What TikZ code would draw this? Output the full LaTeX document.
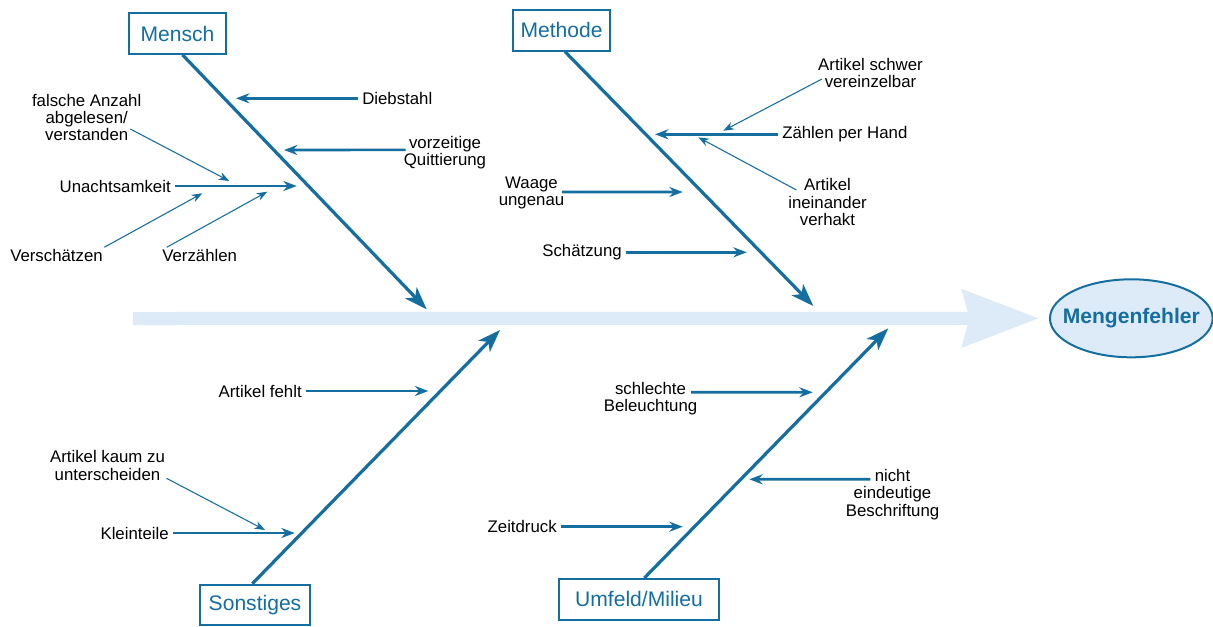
\documentclass[tikz,border=0pt]{standalone}
\usepackage{fontspec}
\setmainfont{Liberation Sans}
\usetikzlibrary{arrows.meta, shapes.geometric}
\definecolor{fishblue}{RGB}{20,110,160}
\definecolor{spineblue}{RGB}{221,235,248}

\begin{document}
\begin{tikzpicture}[
        x=0.75pt, y=-0.75pt,
        causebox/.style={rectangle, draw=fishblue, line width=1.5pt, text=fishblue, minimum height=30.5pt, inner sep=0pt, font=\fontsize{15.8}{18}\selectfont},
        effect/.style={ellipse, draw=fishblue, fill=spineblue, line width=1.5pt, text=fishblue, minimum width=122pt, minimum height=58.5pt, inner sep=0pt, font=\fontsize{15.8}{18}\selectfont\bfseries},
        causetext/.style={inner xsep=3pt, inner ysep=1pt, align=center, font=\fontsize{12.6}{13.1}\selectfont},
        bone/.style={-{Stealth[length=17pt, width=12pt, inset=4.5pt]}, fishblue, line width=2.4pt},
        subarrow/.style={-{Stealth[length=10pt, width=7.5pt]}, fishblue, line width=2pt},
        thinarrow/.style={-{Stealth[length=8pt, width=6pt]}, fishblue, line width=0.8pt},
        spine/.style={-{Stealth[length=57pt, width=42pt, inset=5pt]}, spineblue, line width=9.75pt}
    ]
        \path[use as bounding box, fill=white] (0,0) rectangle (1213,626);

        \node[effect] (fehler) at (1131.3,318.3) {\makebox[0pt]{Mengenfehler}};
        \coordinate (tail) at (133,318.5);
        \draw[spine] (tail) -- ([xshift=-7.5pt]fehler.west);

        \node[causebox, minimum width=72.75pt] (mensch) at (177.5,33.5) {Mensch};
        \node[causebox, minimum width=72.75pt] (methode) at (561.5,30.3) {Methode};
        \node[causebox, minimum width=82.5pt] (sonst) at (255,605) {Sonstiges};
        \node[causebox, minimum width=119.5pt] (umfeld) at (639,599.3) {Umfeld/Milieu};

        \coordinate (mensch-tip) at (426.7,309.3);
        \coordinate (methode-tip) at (813.3,306);
        \coordinate (sonst-tip) at (500,330);
        \coordinate (umfeld-tip) at (888.3,328.3);
        \draw[bone] ([xshift=3.75pt]mensch.south) -- (mensch-tip);
        \draw[bone] ([xshift=2.6pt]methode.south) -- (methode-tip);
        \draw[bone] ([xshift=-2pt]sonst.north) -- (sonst-tip);
        \draw[bone] ([xshift=4pt]umfeld.north) -- (umfeld-tip);

        \node[causetext, anchor=west] (dieb) at (358,98.3) {Diebstahl};
        \node[causetext] (quitt) at (445,152.5) {vorzeitige\\Quittierung};
        \node[causetext, anchor=east] (unacht) at (175,186) {Unachtsamkeit};
        \node[causetext] (falsch) at (86.7,117.5) {falsche Anzahl\\abgelesen/\\verstanden};
        \node[causetext] (versch) at (56.5,255) {Verschätzen};
        \node[causetext] (verz) at (199.7,255) {Verzählen};
        \coordinate (dieb-end) at (236,98.3);
        \coordinate (quitt-end) at (284,150);
        \coordinate (unacht-end) at (296.7,186);
        \coordinate (falsch-end) at (229.3,181);
        \coordinate (versch-end) at (202.3,193.3);
        \coordinate (verz-end) at (267.3,191.7);
        \draw[subarrow] (dieb) -- (dieb-end);
        \draw[subarrow] ([xshift=4.5pt,yshift=2pt]quitt.west) -- (quitt-end);
        \draw[subarrow] (unacht) -- (unacht-end);
        \draw[thinarrow] ([xshift=-11.5pt,yshift=-8.6pt]falsch.east) -- (falsch-end);
        \draw[thinarrow] ([xshift=-2pt]versch.north east) -- (versch-end);
        \draw[thinarrow] ([xshift=6.5pt]verz.north west) -- (verz-end);

        \node[causetext] (schwer) at (870.5,73) {Artikel schwer\\vereinzelbar};
        \node[causetext, anchor=west] (hand) at (778,134.3) {Zählen per Hand};
        \node[causetext] (verhakt) at (827.5,202) {Artikel\\ineinander\\verhakt};
        \node[causetext] (waage) at (531.5,192.7) {Waage\\ungenau};
        \node[causetext, anchor=east] (schaetz) at (626,252.3) {Schätzung};
        \coordinate (schwer-end) at (723.3,130.7);
        \coordinate (hand-end) at (655,134.3);
        \coordinate (verhakt-end) at (698.3,137.3);
        \coordinate (waage-end) at (682.7,192);
        \coordinate (schaetz-end) at (746.7,252.3);
        \draw[thinarrow] ([xshift=6pt,yshift=-4.5pt]schwer.west) -- (schwer-end);
        \draw[subarrow] (hand) -- (hand-end);
        \draw[thinarrow] ([xshift=9.3pt,yshift=9pt]verhakt.west) -- (verhakt-end);
        \draw[subarrow] ([xshift=-5pt,yshift=0.5pt]waage.east) -- (waage-end);
        \draw[subarrow] (schaetz) -- (schaetz-end);

        \node[causetext, anchor=east] (fehlt) at (306,391) {Artikel fehlt};
        \node[causetext] (kaum) at (107.5,465.3) {Artikel kaum zu\\unterscheiden};
        \node[causetext, anchor=east] (klein) at (173,533) {Kleinteile};
        \coordinate (fehlt-end) at (428.3,391);
        \coordinate (kaum-end) at (265,530);
        \coordinate (klein-end) at (294.7,533);
        \draw[subarrow] (fehlt) -- (fehlt-end);
        \draw[thinarrow] ([xshift=-2pt,yshift=-9.75pt]kaum.east) -- (kaum-end);
        \draw[subarrow] (klein) -- (klein-end);

        \node[causetext] (licht) at (650.5,398.5) {schlechte\\Beleuchtung};
        \node[causetext] (beschr) at (892.5,494.5) {nicht\\eindeutige\\Beschriftung};
        \node[causetext, anchor=east] (zeit) at (561,526.7) {Zeitdruck};
        \coordinate (licht-end) at (812.7,392.3);
        \coordinate (beschr-end) at (749.3,479.3);
        \coordinate (zeit-end) at (682.7,526.7);
        \draw[subarrow] ([xshift=-7.85pt,yshift=4.65pt]licht.east) -- (licht-end);
        \draw[subarrow] ([xshift=21.65pt,yshift=11.4pt]beschr.west) -- (beschr-end);
        \draw[subarrow] (zeit) -- (zeit-end);
    \end{tikzpicture}
\end{document}
